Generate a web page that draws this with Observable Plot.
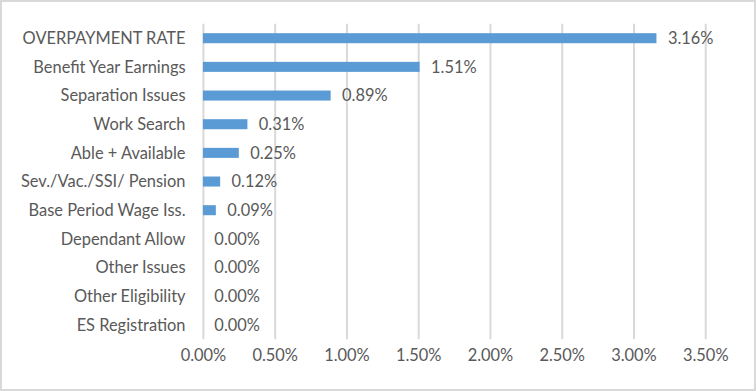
<!DOCTYPE html>
<html>
<head>
<meta charset="utf-8">
<script src="https://cdn.jsdelivr.net/npm/d3@7"></script>
<script src="https://cdn.jsdelivr.net/npm/@observablehq/plot@0.6"></script>
<style>
  html, body { margin: 0; padding: 0; background: #fff; }
  #chart { width: 756px; height: 391px; box-sizing: border-box; border: 2px solid #d9d9d9; overflow: hidden; position: relative; }
  #chart svg { position: absolute; left: -2px; top: -2px; }
</style>
</head>
<body>
<div id="chart"></div>
<script>
const categories = [
  "OVERPAYMENT RATE",
  "Benefit Year Earnings",
  "Separation Issues",
  "Work Search",
  "Able + Available",
  "Sev./Vac./SSI/ Pension",
  "Base Period Wage Iss.",
  "Dependant Allow",
  "Other Issues",
  "Other Eligibility",
  "ES Registration"
];
const rates = [0.0316, 0.0151, 0.0089, 0.0031, 0.0025, 0.0012, 0.0009, 0, 0, 0, 0];
const xTicks = [0, 0.005, 0.01, 0.015, 0.02, 0.025, 0.03, 0.035];

const data = categories.map((c, i) => ({category: c, rate: rates[i]}));
const fmt = d3.format(".2%");

const chart = Plot.plot({
  width: 756,
  height: 391,
  marginLeft: 204,
  marginRight: 47,
  marginTop: 24,
  marginBottom: 50,
  style: {fontFamily: "Lato, 'Open Sans', sans-serif", fontSize: "16.5px", color: "#595959", background: "transparent"},
  x: {domain: [0, 0.035], ticks: xTicks, tickFormat: fmt, label: null},
  y: {domain: categories, paddingInner: 0.65, paddingOuter: 0.325, round: false, label: null},
  marks: [
    Plot.gridX(xTicks, {stroke: "#d9d9d9", strokeOpacity: 1, strokeWidth: 2}),
    Plot.barX(data, {x: "rate", y: "category", fill: "#5B9BD5"}),
    Plot.text(data, {x: "rate", y: "category", text: d => fmt(d.rate), textAnchor: "start", dx: 11, fill: "#595959", fontSize: 16.5}),
    Plot.axisX({ticks: xTicks, tickFormat: fmt, tickSize: 0, tickPadding: 10, label: null, fill: "#595959", fontSize: 16.5}),
    Plot.axisY({tickSize: 0, tickPadding: 18, label: null, fill: "#595959", fontSize: 16.5})
  ]
});
document.getElementById("chart").appendChild(chart);
</script>
</body>
</html>
